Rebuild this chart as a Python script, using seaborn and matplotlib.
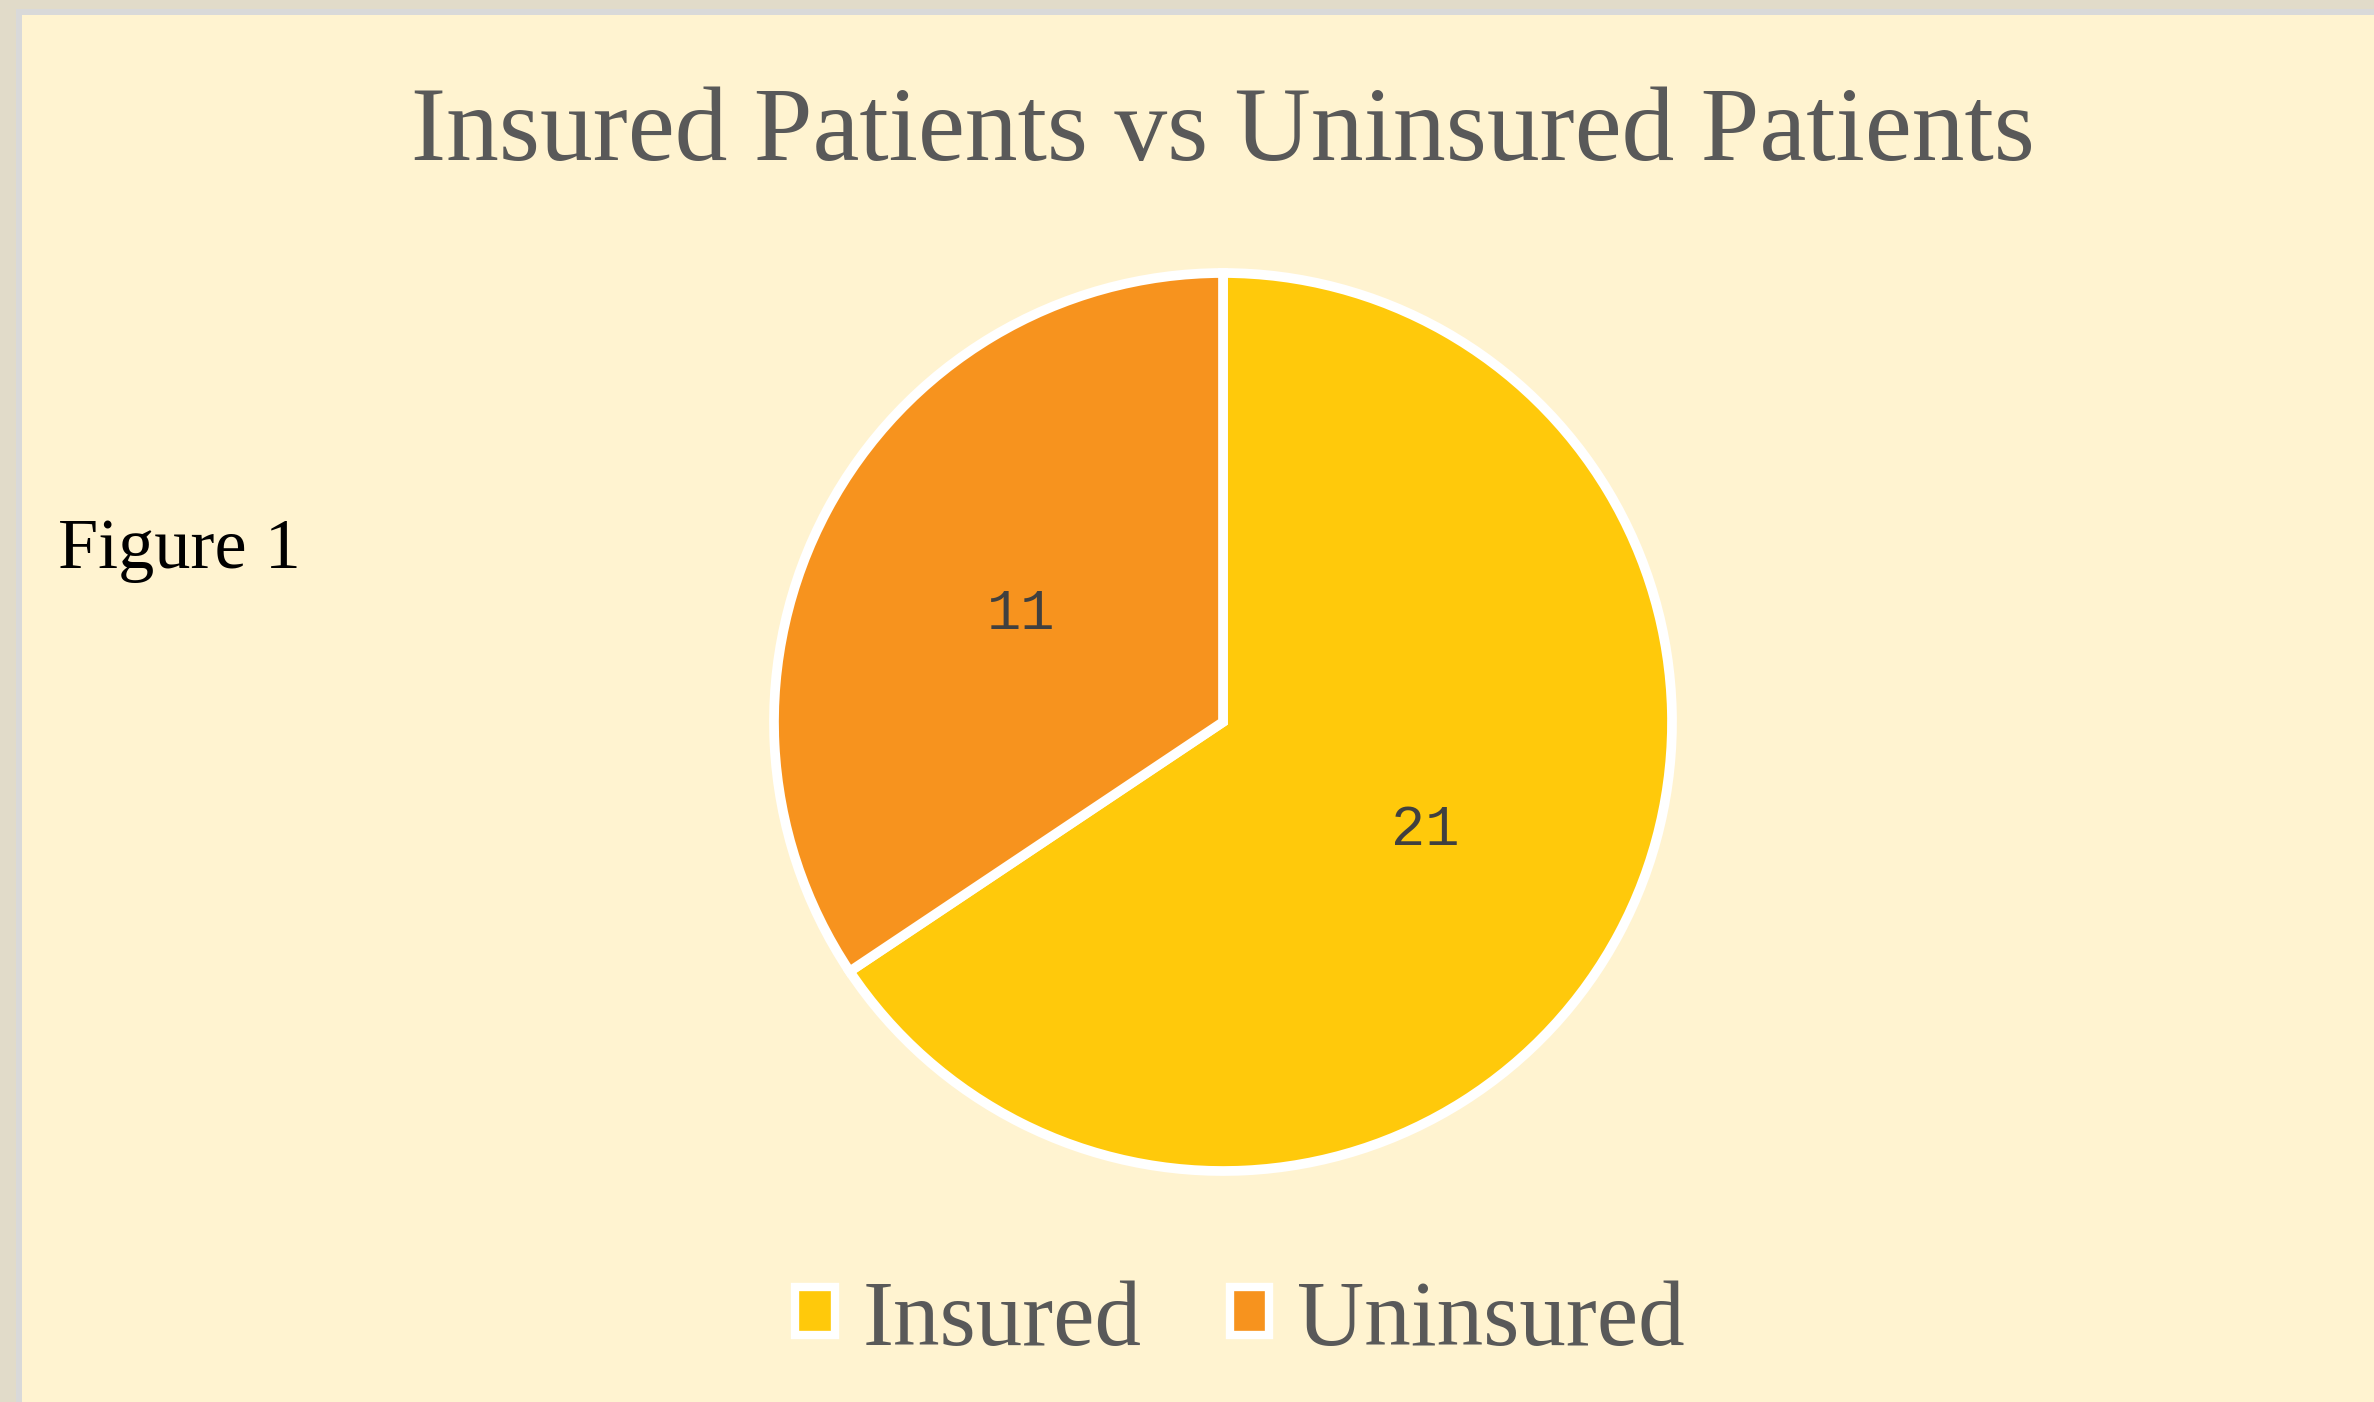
import matplotlib
matplotlib.use("Agg")
import matplotlib.pyplot as plt
from matplotlib.patches import Rectangle, Patch
import seaborn as sns

# ---- data ----
categories = ["Insured", "Uninsured"]
patients = [21, 11]
title_text = "Insured Patients vs Uninsured Patients"
side_note = "Figure 1"

# ---- style ----
W, H = 2374, 1402
DPI = 100
cream = "#FFF3D0"
beige = "#E1DBC9"
grey_band = "#D9D9D9"
pie_colors = sns.color_palette(["#FFC90B", "#F7931E"])
text_grey = "#595959"

sns.set_theme(style="white")
plt.rcParams["font.family"] = ["Liberation Serif", "DejaVu Serif"]

fig = plt.figure(figsize=(W / DPI, H / DPI), dpi=DPI)
fig.patch.set_facecolor(beige)

def fx(px):
    return px / W

def fy(py):
    return 1 - py / H

# borders: beige outer, grey inner band, then cream panel
fig.add_artist(Rectangle((fx(16), 0), 1 - fx(16), fy(9), transform=fig.transFigure,
                         facecolor=grey_band, edgecolor="none", zorder=0))
fig.add_artist(Rectangle((fx(22), 0), 1 - fx(22), fy(15), transform=fig.transFigure,
                         facecolor=cream, edgecolor="none", zorder=0))

# pie axes
cx, cy, r = 1223, 722, 449
pad = 1.05
half = r * pad
ax = fig.add_axes([fx(cx - half), fy(cy + half), 2 * half / W, 2 * half / H])
ax.set_facecolor("none")
total = sum(patients)
wedges, texts, autotexts = ax.pie(
    patients,
    colors=pie_colors,
    startangle=90,
    counterclock=False,
    radius=1,
    autopct=lambda p: f"{round(p * total / 100)}",
    pctdistance=0.51,
    wedgeprops=dict(edgecolor="white", linewidth=7),
    textprops=dict(family=["Liberation Mono", "DejaVu Sans Mono"], fontsize=41, color="#404040"),
)
ax.set_xlim(-pad, pad)
ax.set_ylim(-pad, pad)
ax.set_aspect("equal")
ax.axis("off")

# title
fig.text(fx(1223), fy(160), title_text, ha="center", va="baseline",
         fontsize=76, color=text_grey)

# side note
fig.text(fx(58), fy(568), side_note, ha="left", va="baseline",
         fontsize=52, color="black")

# legend
handles = [Patch(facecolor=c, edgecolor="white", linewidth=6) for c in pie_colors]
leg = fig.legend(handles, categories, loc="center", bbox_to_anchor=(fx(1240), fy(1322)),
                 ncol=2, frameon=False, fontsize=67, handlelength=0.42, handleheight=0.42,
                 handletextpad=0.3, columnspacing=0.95, labelcolor=text_grey)

fig.savefig("out.png", dpi=DPI, facecolor=fig.get_facecolor())
